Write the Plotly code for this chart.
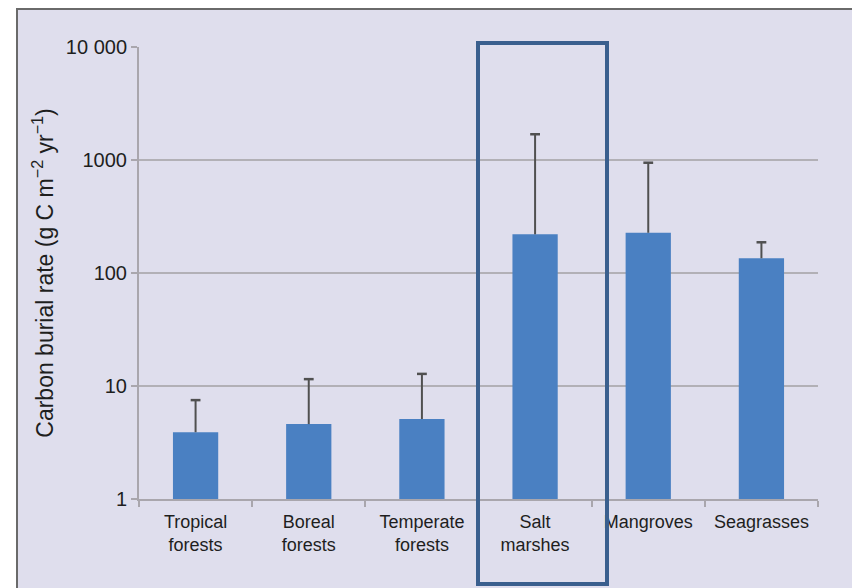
import plotly.graph_objects as go

categories = ["Tropical<br>forests", "Boreal<br>forests", "Temperate<br>forests",
              "Salt<br>marshes", "Mangroves", "Seagrasses"]
values = [3.9, 4.6, 5.1, 220, 227, 135]
upper = [7.5, 11.5, 12.8, 1690, 946, 187]

ytick_vals = [1, 10, 100, 1000, 10000]
ytick_text = ["1", "10", "100", "1000", "10 000"]

# error whiskers built from the data (upper side only)
wx, wy = [], []
for c, v, u in zip(categories, values, upper):
    wx += [c, c, None]
    wy += [v, u, None]

fig = go.Figure()
fig.add_trace(go.Bar(
    x=categories, y=values,
    marker=dict(color="#4a80c2", line=dict(width=0)),
    width=0.4,
))
fig.add_trace(go.Scatter(
    x=wx, y=wy, mode="lines",
    line=dict(color="#505050", width=2), hoverinfo="skip",
))
fig.add_trace(go.Scatter(
    x=categories, y=upper, mode="markers",
    marker=dict(symbol="line-ew", size=7, line=dict(color="#505050", width=2.5)),
    hoverinfo="skip",
))

OFF = 8  # page body margin
W, H = 852, 580
L, R, T, B = 131, 42, 39, 89
pw, ph = W - L - R, H - T - B

def px(x):
    return (x - OFF - L) / pw

def py(y):
    return (H - B - (y - OFF)) / ph

# outer lavender panel with dark border
fig.add_shape(type="rect", xref="paper", yref="paper",
              x0=px(17), x1=px(857), y0=py(610), y1=py(9),
              fillcolor="#dfdeed", line=dict(color="#6a6a6a", width=2), layer="below")
# highlight box around salt marshes
fig.add_shape(type="rect", xref="paper", yref="paper",
              x0=px(478), x1=px(607), y0=py(584), y1=py(43),
              fillcolor="rgba(0,0,0,0)", line=dict(color="#3a5f8e", width=4), layer="above")

fig.update_layout(
    width=W, height=H,
    margin=dict(l=L, r=R, t=T, b=B, autoexpand=False),
    paper_bgcolor="white", plot_bgcolor="white",
    showlegend=False, bargap=0.6,
    font=dict(family="Liberation Sans, Arial, sans-serif", color="#1e1e1e"),
)
fig.update_xaxes(
    showline=True, linecolor="#a9a6ad", linewidth=2,
    ticks="outside", tickson="boundaries", ticklen=6, tickcolor="#a9a6ad", tickwidth=2,
    showgrid=False, ticklabelstandoff=5,
    tickfont=dict(size=18, color="#1e1e1e"),
)
fig.update_yaxes(
    type="log", range=[0, 4],
    tickvals=ytick_vals, ticktext=ytick_text,
    showline=True, linecolor="#a9a6ad", linewidth=2,
    ticks="outside", ticklen=6, tickcolor="#a9a6ad", tickwidth=2,
    showgrid=True, gridcolor="#b2b0b6", gridwidth=2,
    zeroline=False,
    tickfont=dict(size=20, color="#1e1e1e"),
    title=dict(text="Carbon burial rate (g C m<sup>−2</sup> yr<sup>−1</sup>)",
               font=dict(size=23, color="#1e1e1e"), standoff=6),
)

fig.write_html("out.html")
